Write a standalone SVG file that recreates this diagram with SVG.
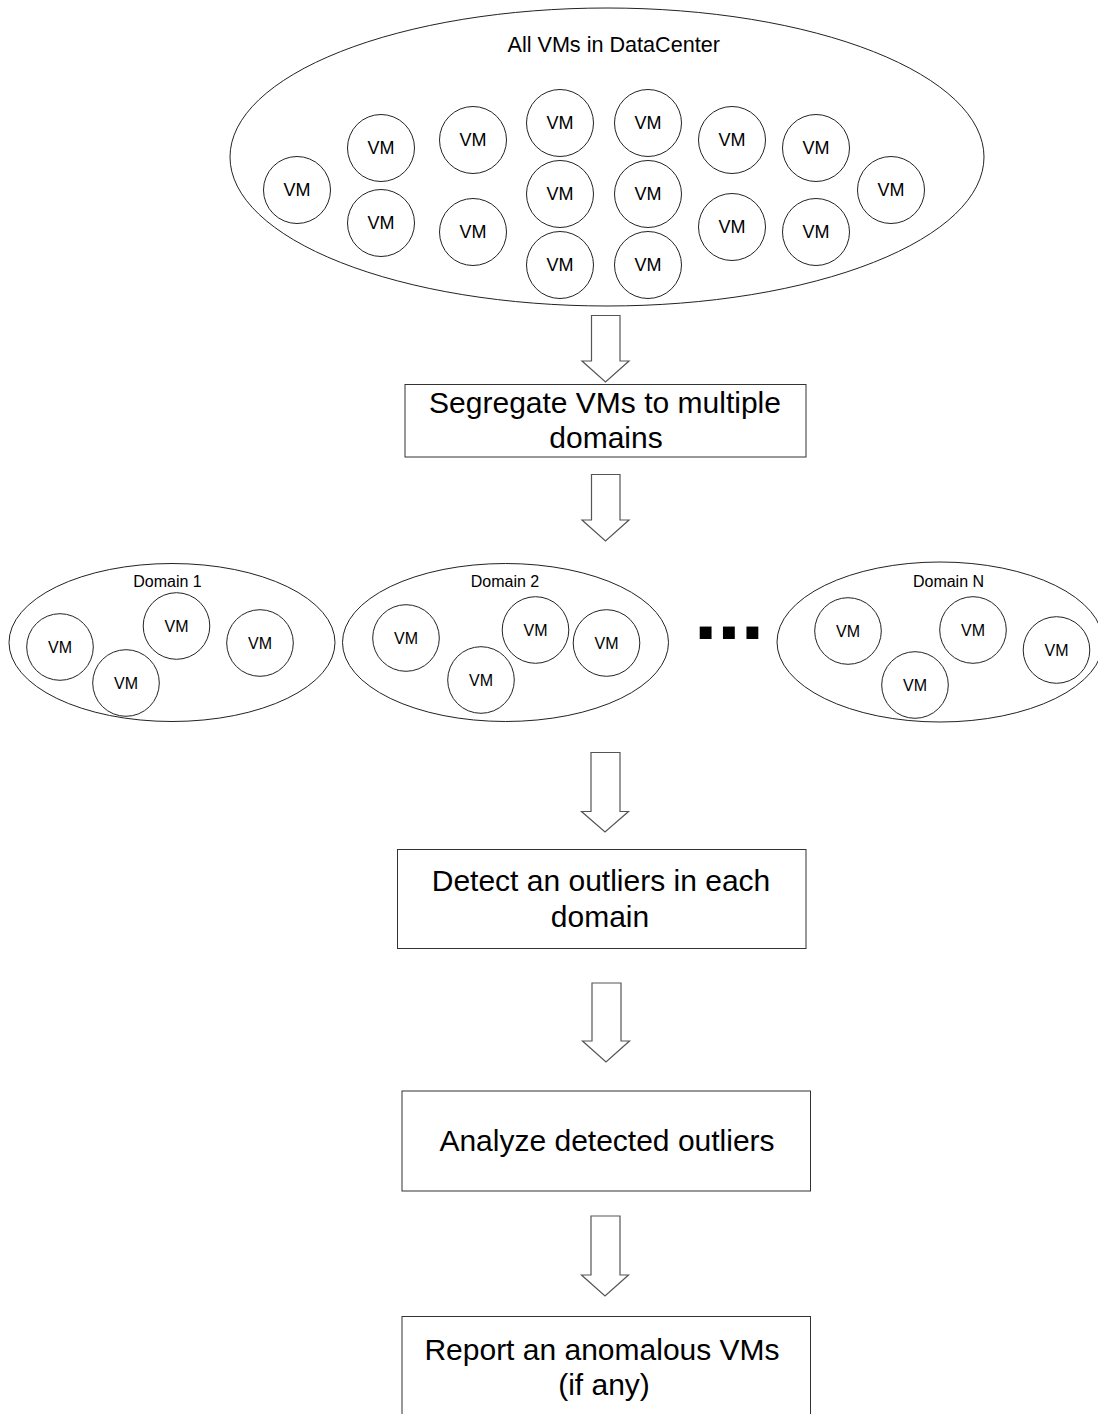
<svg xmlns="http://www.w3.org/2000/svg" width="1098" height="1414" viewBox="0 0 1098 1414">
<style>
  .ell { fill: #ffffff; stroke: #222222; stroke-width: 1; }
  .vm { fill: #ffffff; stroke: #222222; stroke-width: 1; }
  .box { fill: #ffffff; stroke: #333333; stroke-width: 1; }
  .arr { fill: #ffffff; stroke: #555555; stroke-width: 1.2; stroke-linejoin: miter; }
  text { font-family: "Liberation Sans", Arial, sans-serif; fill: #000000; }
  .vmt { font-size: 18px; text-anchor: middle; dominant-baseline: central; }
  .vmt2 { font-size: 16px; text-anchor: middle; dominant-baseline: central; }
  .lbl { font-size: 16px; text-anchor: middle; }
  .big { font-size: 30px; text-anchor: middle; }
</style>
<rect width="1098" height="1414" fill="#ffffff"/>

<g id="datacenter">
  <ellipse class="ell" cx="607" cy="157" rx="377" ry="149"/>
  <text x="613.7" y="52.3" font-size="21.6" text-anchor="middle">All VMs in DataCenter</text>
  <circle class="vm" cx="297" cy="190" r="33.5"/><text class="vmt" x="297" y="190">VM</text>
  <circle class="vm" cx="381" cy="148" r="33.5"/><text class="vmt" x="381" y="148">VM</text>
  <circle class="vm" cx="381" cy="223" r="33.5"/><text class="vmt" x="381" y="223">VM</text>
  <circle class="vm" cx="473" cy="140" r="33.5"/><text class="vmt" x="473" y="140">VM</text>
  <circle class="vm" cx="473" cy="232" r="33.5"/><text class="vmt" x="473" y="232">VM</text>
  <circle class="vm" cx="560" cy="123" r="33.5"/><text class="vmt" x="560" y="123">VM</text>
  <circle class="vm" cx="560" cy="194" r="33.5"/><text class="vmt" x="560" y="194">VM</text>
  <circle class="vm" cx="560" cy="265" r="33.5"/><text class="vmt" x="560" y="265">VM</text>
  <circle class="vm" cx="648" cy="123" r="33.5"/><text class="vmt" x="648" y="123">VM</text>
  <circle class="vm" cx="648" cy="194" r="33.5"/><text class="vmt" x="648" y="194">VM</text>
  <circle class="vm" cx="648" cy="265" r="33.5"/><text class="vmt" x="648" y="265">VM</text>
  <circle class="vm" cx="732" cy="140" r="33.5"/><text class="vmt" x="732" y="140">VM</text>
  <circle class="vm" cx="732" cy="227" r="33.5"/><text class="vmt" x="732" y="227">VM</text>
  <circle class="vm" cx="816" cy="148" r="33.5"/><text class="vmt" x="816" y="148">VM</text>
  <circle class="vm" cx="816" cy="232" r="33.5"/><text class="vmt" x="816" y="232">VM</text>
  <circle class="vm" cx="891" cy="190" r="33.5"/><text class="vmt" x="891" y="190">VM</text>
</g>

<g id="segregate">
  <rect class="box" x="405" y="384.5" width="401" height="72.5"/>
  <text class="big" x="605" y="413">Segregate VMs to multiple</text>
  <text class="big" x="606" y="448">domains</text>
</g>

<g id="domain1">
  <ellipse class="ell" cx="172" cy="642.5" rx="163" ry="79"/>
  <text class="lbl" x="167.5" y="587">Domain 1</text>
  <circle class="vm" cx="60" cy="647" r="33.3"/><text class="vmt2" x="60" y="647">VM</text>
  <circle class="vm" cx="176.5" cy="626" r="33.3"/><text class="vmt2" x="176.5" y="626">VM</text>
  <circle class="vm" cx="260" cy="643" r="33.3"/><text class="vmt2" x="260" y="643">VM</text>
  <circle class="vm" cx="126" cy="683" r="33.3"/><text class="vmt2" x="126" y="683">VM</text>
</g>

<g id="domain2">
  <ellipse class="ell" cx="505.5" cy="642.5" rx="163" ry="79"/>
  <text class="lbl" x="505" y="587">Domain 2</text>
  <circle class="vm" cx="406" cy="638" r="33.3"/><text class="vmt2" x="406" y="638">VM</text>
  <circle class="vm" cx="535.5" cy="630" r="33.3"/><text class="vmt2" x="535.5" y="630">VM</text>
  <circle class="vm" cx="606.5" cy="643" r="33.3"/><text class="vmt2" x="606.5" y="643">VM</text>
  <circle class="vm" cx="481" cy="680" r="33.3"/><text class="vmt2" x="481" y="680">VM</text>
</g>

<g id="ellipsis">
  <text x="694" y="639" font-size="84" font-weight="bold">...</text>
</g>

<g id="domainN">
  <ellipse class="ell" cx="940" cy="642" rx="163" ry="80"/>
  <text class="lbl" x="948.5" y="587">Domain N</text>
  <circle class="vm" cx="848" cy="631" r="33.3"/><text class="vmt2" x="848" y="631">VM</text>
  <circle class="vm" cx="973" cy="630" r="33.3"/><text class="vmt2" x="973" y="630">VM</text>
  <circle class="vm" cx="1056.5" cy="650" r="33.3"/><text class="vmt2" x="1056.5" y="650">VM</text>
  <circle class="vm" cx="915" cy="685" r="33.3"/><text class="vmt2" x="915" y="685">VM</text>
</g>

<g id="detect">
  <rect class="box" x="397.5" y="849.5" width="408.5" height="99"/>
  <text class="big" x="601" y="891">Detect an outliers in each</text>
  <text class="big" x="600" y="926.5">domain</text>
</g>

<g id="analyze">
  <rect class="box" x="402" y="1091" width="408.5" height="100"/>
  <text class="big" x="607" y="1151">Analyze detected outliers</text>
</g>

<g id="report">
  <rect class="box" x="402" y="1316.5" width="408.5" height="120"/>
  <text class="big" x="602" y="1360">Report an anomalous VMs</text>
  <text class="big" x="604" y="1395">(if any)</text>
</g>

<g id="connectors">
  <path class="arr" d="M591.5,315.5 H620 V361 H629 L605.5,382 L582,361 H591.5 Z"/>
  <path class="arr" d="M591.5,474.5 H620 V520 H629 L605.5,541 L582,520 H591.5 Z"/>
  <path class="arr" d="M591,752.5 H620 V811.5 H628.5 L605,832 L581.5,811.5 H591 Z"/>
  <path class="arr" d="M592,983 H621 V1041 H629.5 L606,1062 L582.5,1041 H592 Z"/>
  <path class="arr" d="M591,1216 H620 V1275 H628.5 L605,1296 L581.5,1275 H591 Z"/>
</g>
</svg>
